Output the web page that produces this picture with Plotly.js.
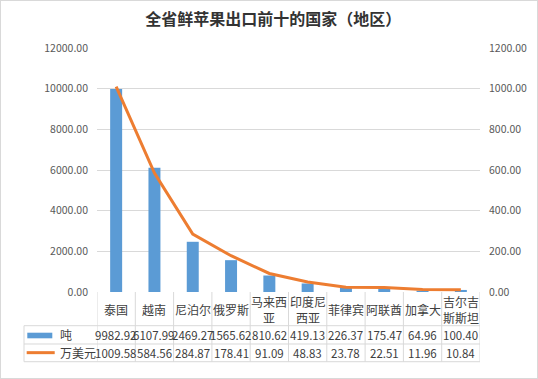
<!DOCTYPE html>
<html>
<head>
<meta charset="utf-8">
<script src="https://cdn.plot.ly/plotly-3.0.1.min.js"></script>
<style>
html,body{margin:0;padding:0;background:#fff;}
#wrap{position:relative;width:538px;height:379px;}
#chart{width:538px;height:379px;}
#border{position:absolute;left:0;top:0;width:538px;height:379px;box-sizing:border-box;border:1px solid #d9d9d9;pointer-events:none;}
</style>
</head>
<body>
<div id="wrap"><div id="chart"></div><div id="border"></div></div>
<script>
// ---- data ----
var categories = ['泰国','越南','尼泊尔','俄罗斯','马来西亚','印度尼西亚','菲律宾','阿联酋','加拿大','吉尔吉斯斯坦'];
var headerLabels = ['泰国','越南','尼泊尔','俄罗斯','马来西<br>亚','印度尼<br>西亚','菲律宾','阿联酋','加拿大','吉尔吉<br>斯斯坦'];
var tons = [9982.92, 6107.99, 2469.27, 1565.62, 810.62, 419.13, 226.37, 175.47, 64.96, 100.40];
var usd = [1009.58, 584.56, 284.87, 178.41, 91.09, 48.83, 23.78, 22.51, 11.96, 10.84];
var seriesNames = ['吨', '万美元'];
var leftTicks = [0, 2000, 4000, 6000, 8000, 10000, 12000];
var rightTicks = [0, 200, 400, 600, 800, 1000, 1200];

var FONT = '"Noto Sans CJK SC", "Noto Sans", sans-serif';
var TXT = '#404040';
var GRID = '#d9d9d9';
var BLUE = '#5b9bd5';
var ORANGE = '#ed7d31';

var n = categories.length;
var idx = categories.map(function(_, i){ return i; });

// table geometry (paper coords below the plot area)
var yHeadBot = -0.1381, yRow2Bot = -0.2131, yRow3Bot = -0.2857;
var yHeadMid = -0.0697, yRow2Mid = -0.1758, yRow3Mid = -0.2496;
var xLegLeft = -0.1906;

var shapes = [];
var annotations = [];
for (var i = 0; i <= n; i++) {
  shapes.push({type:'line', xref:'x', yref:'paper', x0:i-0.5, x1:i-0.5, y0:0, y1:yRow3Bot, line:{color:GRID, width:1}});
}
shapes.push({type:'line', xref:'paper', yref:'paper', x0:xLegLeft, x1:xLegLeft, y0:yHeadBot, y1:yRow3Bot, line:{color:GRID, width:1}});
[yHeadBot, yRow2Bot, yRow3Bot].forEach(function(yy){
  shapes.push({type:'line', xref:'paper', yref:'paper', x0:xLegLeft, x1:1, y0:yy, y1:yy, line:{color:GRID, width:1}});
});
shapes.push({type:'rect', xref:'paper', yref:'paper', x0:-0.182, x1:-0.1167, y0:-0.1668, y1:-0.1898, fillcolor:BLUE, line:{width:0}});
shapes.push({type:'line', xref:'paper', yref:'paper', x0:-0.1836, x1:-0.1104, y0:yRow3Mid+0.001, y1:yRow3Mid+0.001, line:{color:ORANGE, width:3}});

annotations.push({xref:'paper', yref:'paper', x:-0.1018, y:yRow2Mid, xanchor:'left', yanchor:'middle', text:seriesNames[0], showarrow:false, font:{family:FONT, size:12, color:TXT}});
annotations.push({xref:'paper', yref:'paper', x:-0.1018, y:yRow3Mid, xanchor:'left', yanchor:'middle', text:seriesNames[1], showarrow:false, font:{family:FONT, size:12, color:TXT}});

for (var j = 0; j < n; j++) {
  annotations.push({xref:'x', yref:'paper', x:j, y:yHeadMid, xanchor:'center', yanchor:'middle', text:headerLabels[j], showarrow:false, font:{family:FONT, size:12, color:TXT}});
  annotations.push({xref:'x', yref:'paper', x:j, y:yRow2Mid, xanchor:'center', yanchor:'middle', text:tons[j].toFixed(2), showarrow:false, font:{family:FONT, size:11.5, color:TXT}});
  annotations.push({xref:'x', yref:'paper', x:j, y:yRow3Mid, xanchor:'center', yanchor:'middle', text:usd[j].toFixed(2), showarrow:false, font:{family:FONT, size:11.5, color:TXT}});
}

var traces = [
  {type:'bar', x:idx, y:tons, name:seriesNames[0], marker:{color:BLUE}, yaxis:'y', hoverinfo:'none'},
  {type:'scatter', mode:'lines', x:idx, y:usd, name:seriesNames[1], line:{color:ORANGE, width:3}, yaxis:'y2', hoverinfo:'none'}
];

var layout = {
  width:538, height:379,
  margin:{l:97, r:58, t:48, b:87},
  paper_bgcolor:'#ffffff', plot_bgcolor:'#ffffff',
  showlegend:false,
  bargap:0.687,
  title:{text:'全省鲜苹果出口前十的国家（地区）', x:0.508, xref:'container', xanchor:'center', y:0.948, yref:'container', yanchor:'middle', font:{family:FONT, size:16, color:'#333333', weight:'bold'}},
  xaxis:{type:'linear', range:[-0.5, n-0.5], showticklabels:false, showgrid:false, zeroline:false, ticks:'', fixedrange:true},
  yaxis:{range:[0,12000], tickvals:leftTicks, ticktext:leftTicks.map(function(v){return v.toFixed(2);}), showgrid:true, gridcolor:GRID, gridwidth:1, zeroline:false, ticks:'', ticklabelstandoff:8, tickfont:{family:FONT, size:10.5, color:'#595959'}},
  yaxis2:{range:[0,1200], overlaying:'y', side:'right', tickvals:rightTicks, ticktext:rightTicks.map(function(v){return v.toFixed(2);}), showgrid:false, zeroline:false, ticks:'', ticklabelstandoff:8, tickfont:{family:FONT, size:10.5, color:'#595959'}},
  shapes:shapes,
  annotations:annotations
};

Plotly.newPlot('chart', traces, layout, {displayModeBar:false, staticPlot:true});
</script>
</body>
</html>
